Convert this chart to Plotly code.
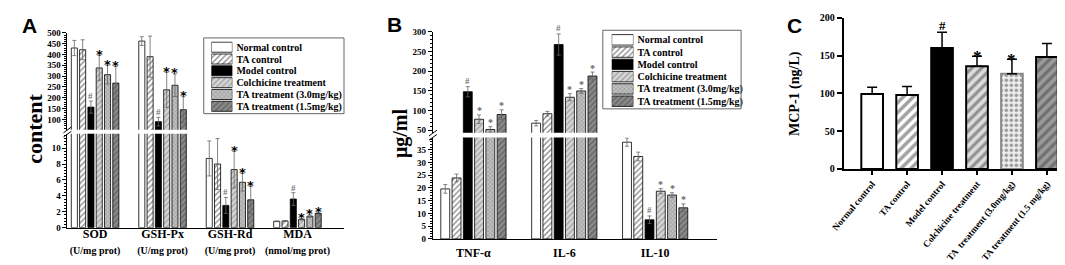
import plotly.graph_objects as go

W, H = 1065, 265
SERIF = "Liberation Serif, Times New Roman, serif"
SANS = "Liberation Sans, Arial, sans-serif"
STARFONT = "DejaVu Sans, sans-serif"

# ---------------- data ----------------
series_names = ["Normal control", "TA control", "Model control", "Colchicine treatment",
                "TA treatment (3.0mg/kg)", "TA treatment (1.5mg/kg)"]

# Panel A (broken axis)
a_cats = ["SOD", "GSH-Px", "GSH-Rd", "MDA"]
a_units = ["(U/mg prot)", "(U/mg prot)", "(U/mg prot)", "(nmol/mg prot)"]
a_normal = [430, 462, 8.7, 0.80]
a_ta = [422, 390, 8.0, 0.85]
a_model = [157, 90, 2.8, 3.6]
a_colch = [338, 237, 7.3, 1.05]
a_ta30 = [307, 258, 5.7, 1.45]
a_ta15 = [268, 145, 3.5, 1.8]
a_err_normal = [35, 20, 2.2, 0.05]
a_err_ta = [46, 95, 3.2, 0.05]
a_err_model = [28, 20, 1.0, 0.8]
a_err_colch = [57, 81, 2.3, 0.1]
a_err_ta30 = [43, 52, 1.1, 0.15]
a_err_ta15 = [77, 60, 1.7, 0.15]
a_sig_normal = ["", "", "", ""]
a_sig_ta = ["", "", "", ""]
a_sig_model = ["#", "#", "#", "#"]
a_sig_colch = ["*", "*", "*", "*"]
a_sig_ta30 = ["*", "*", "*", "*"]
a_sig_ta15 = ["*", "*", "*", "*"]

# Panel B (broken axis)
b_cats = ["TNF-α", "IL-6", "IL-10"]
b_normal = [19.6, 68, 37.9]
b_ta = [23.9, 92, 32.3]
b_model = [148, 268, 7.5]
b_colch = [78, 134, 18.7]
b_ta30 = [52, 150, 17.2]
b_ta15 = [90, 188, 12.2]
b_err_normal = [1.7, 7, 1.6]
b_err_ta = [1.5, 6, 1.7]
b_err_model = [13, 27, 1.5]
b_err_colch = [11, 9, 1.0]
b_err_ta30 = [7, 6, 0.9]
b_err_ta15 = [12, 10, 1.5]
b_sig_normal = ["", "", ""]
b_sig_ta = ["", "", ""]
b_sig_model = ["#", "#", "#"]
b_sig_colch = ["*", "*", "*"]
b_sig_ta30 = ["*", "*", "*"]
b_sig_ta15 = ["*", "*", "*"]

# Panel C
c_cats = ["Normal control", "TA control", "Model control", "Colchicine treatment",
          "TA  treatment (3.0mg/kg)", "TA treatment (1.5 mg/kg)"]
c_vals = [99, 98, 160, 136, 126, 148]
c_err = [9, 11, 21, 13, 19, 18]
c_sig = ["", "", "#", "*", "*", ""]

# ---------------- helpers ----------------
def fx(px):
    return px / W


def fy(py):
    return 1 - py / H


LINE = dict(color="black", width=0.8)
styles_ab = [
    dict(color="white", line=LINE),
    dict(color="white", line=LINE,
         pattern=dict(shape="/", fgcolor="black", bgcolor="white", size=4, solidity=0.3)),
    dict(color="black", line=LINE),
    dict(color="#d2d2d2", line=LINE,
         pattern=dict(shape="/", fgcolor="#666666", bgcolor="#d6d6d6", size=4, solidity=0.3)),
    dict(color="#b0b0b0", line=LINE,
         pattern=dict(shape="x", fgcolor="#555555", bgcolor="#c0c0c0", size=3, solidity=0.3)),
    dict(color="#808080", line=LINE,
         pattern=dict(shape="/", fgcolor="#333333", bgcolor="#8a8a8a", size=4, solidity=0.3)),
]

fig = go.Figure()
mark_annotations = []


def add_mark(x, y, text, xa, ya, size, color, yshift, family=SERIF):
    mark_annotations.append(dict(
        x=x, y=y, xref=xa, yref=ya, text=text, showarrow=False,
        xanchor="center", yanchor="middle", yshift=yshift,
        font=dict(family=family, size=size, color=color, weight="bold")))


def add_panel(vals_list, errs_list, sigs_list, slot, width, xa, ya_low, ya_up, low_max,
              star_style, hash_style):
    ncat = len(vals_list[0])
    for i, (vals, errs, sigs) in enumerate(zip(vals_list, errs_list, sigs_list)):
        xs = [g + (i - 2.5) * slot for g in range(ncat)]
        for ya in (ya_low, ya_up):
            fig.add_trace(go.Bar(
                x=xs, y=vals, width=width, xaxis=xa, yaxis=ya,
                marker=styles_ab[i], showlegend=False, hoverinfo="skip",
                error_y=dict(type="data", array=errs, visible=True, color="#666666",
                             thickness=0.8, width=2)))
        # significance marks above the error bars
        for g in range(ncat):
            if not sigs[g]:
                continue
            ya = ya_up if vals[g] > low_max else ya_low
            st = star_style if sigs[g] == "*" else hash_style
            add_mark(xs[g], vals[g] + errs[g], sigs[g], xa, ya, *st)


# Panel A
A_LOW_MAX = 11.8
add_panel([a_normal, a_ta, a_model, a_colch, a_ta30, a_ta15],
          [a_err_normal, a_err_ta, a_err_model, a_err_colch, a_err_ta30, a_err_ta15],
          [a_sig_normal, a_sig_ta, a_sig_model, a_sig_colch, a_sig_ta30, a_sig_ta15],
          0.123, 0.09, "x", "y", "y2", A_LOW_MAX,
          (13, "black", 1, STARFONT), (9, "#777777", 5))

# Panel B
B_LOW_MAX = 39.7
add_panel([b_normal, b_ta, b_model, b_colch, b_ta30, b_ta15],
          [b_err_normal, b_err_ta, b_err_model, b_err_colch, b_err_ta30, b_err_ta15],
          [b_sig_normal, b_sig_ta, b_sig_model, b_sig_colch, b_sig_ta30, b_sig_ta15],
          0.124, 0.098, "x2", "y3", "y4", B_LOW_MAX,
          (10, "#666666", 4), (9, "#777777", 6))

# Panel C
fig.add_trace(go.Bar(
    x=c_cats, y=c_vals, xaxis="x3", yaxis="y5", width=0.62, showlegend=False, hoverinfo="skip",
    marker=dict(
        color=["white", "white", "black", "#dddddd", "#eeeeee", "#9a9a9a"],
        line=dict(color=["black", "black", "black", "black", "#888888", "black"], width=2),
        pattern=dict(shape=["", "/", "", "/", ".", "/"],
                     fgcolor=["black", "black", "black", "#111111", "#666666", "#111111"],
                     bgcolor=["white", "white", "black", "#dddddd", "#f0f0f0", "#9a9a9a"],
                     size=[7, 7, 7, 7, 5, 7], solidity=[0.3, 0.5, 0.3, 0.45, 0.4, 0.45])),
    error_y=dict(type="data", array=c_err, arrayminus=[0] * len(c_err), visible=True,
                 color="black", thickness=1.5, width=5)))
for c, v, e, s in zip(c_cats, c_vals, c_err, c_sig):
    if s == "*":
        add_mark(c, v + e, s, "x3", "y5", 17, "black", 0)
    elif s == "#":
        add_mark(c, v + e, s, "x3", "y5", 13, "black", 7)

# Legends (pattern swatches built from the series names)
for xa, ya in (("x4", "y6"), ("x5", "y7")):
    for i, name in enumerate(series_names):
        fig.add_trace(go.Bar(
            orientation="h", y=[name], x=[1], xaxis=xa, yaxis=ya, width=0.85,
            marker=styles_ab[i], showlegend=False, hoverinfo="skip"))

# ---------------- layout ----------------
TICKFONT_AB = dict(family=SERIF, size=9, color="black", weight="bold")


def yax(domain, rng, dtick, minor_dtick, anchor):
    return dict(domain=domain, range=rng, dtick=dtick, tick0=0, anchor=anchor,
                showline=True, linecolor="black", linewidth=1, ticks="outside", ticklen=4,
                tickcolor="black", tickwidth=1, showgrid=False, zeroline=False,
                tickfont=TICKFONT_AB,
                minor=dict(ticks="outside", ticklen=2, dtick=minor_dtick, tickcolor="black",
                           tickwidth=0.8, showgrid=False))


def legend_yax(domain, anchor):
    return dict(domain=domain, type="category", categoryorder="array",
                categoryarray=series_names, tickmode="array", tickvals=series_names,
                ticktext=series_names, range=[5.5, -0.5], anchor=anchor, side="right",
                showline=False, ticks="", showgrid=False, zeroline=False, ticklabelstandoff=3,
                tickfont=dict(family=SERIF, size=10, color="black", weight="bold"))


a_ticktext = [f"<b>{c}</b><br><span style='font-size:10px'>{u}</span>" for c, u in zip(a_cats, a_units)]

fig.update_layout(
    width=W, height=H, margin=dict(l=0, r=0, t=0, b=0),
    paper_bgcolor="white", plot_bgcolor="rgba(0,0,0,0)",
    barmode="overlay", showlegend=False,
    font=dict(family=SERIF, color="black"),
    # Panel A
    xaxis=dict(domain=[fx(47), fx(327)], range=[-0.41, 3.69], anchor="y",
               tickvals=list(range(len(a_cats))), ticktext=a_ticktext,
               showline=True, linecolor="black", linewidth=1, ticks="", showgrid=False,
               zeroline=False, ticklabelstandoff=-5,
               tickfont=dict(family=SERIF, size=12, color="black", weight="bold")),
    yaxis=yax([fy(224), fy(126)], [0, A_LOW_MAX], 2, 0.4, "x"),
    yaxis2=yax([fy(121.7), fy(20.7)], [53, 500], 50, 10, "x"),
    # Panel B
    xaxis2=dict(domain=[fx(417), fx(705)], range=[-0.446, 2.685], anchor="y3",
                tickvals=list(range(len(b_cats))), ticktext=b_cats,
                showline=True, linecolor="black", linewidth=1, ticks="", showgrid=False,
                zeroline=False, ticklabelstandoff=3,
                tickfont=dict(family=SERIF, size=12, color="black", weight="bold")),
    yaxis3=yax([fy(235.7), fy(130)], [0, B_LOW_MAX], 5, 1, "x2"),
    yaxis4=yax([fy(125), fy(19.8)], [43.5, 300], 50, 10, "x2"),
    # Panel C
    xaxis3=dict(domain=[fx(833), fx(1063)], range=[-0.81, 5.69], anchor="y5",
                type="category", categoryorder="array", categoryarray=c_cats,
                showline=True, linecolor="black", linewidth=2, ticks="outside", ticklen=4,
                tickwidth=1.5, tickcolor="black", showgrid=False, zeroline=False, tickangle=-50,
                ticklabelstandoff=0,
                tickfont=dict(family=SERIF, size=9.3, color="black", weight="bold")),
    yaxis5=dict(domain=[fy(162.7), fy(5)], range=[0, 200], dtick=50, anchor="x3",
                showline=True, linecolor="black", linewidth=2, ticks="outside", ticklen=5,
                tickwidth=1.5, tickcolor="black", showgrid=False, zeroline=False,
                tickfont=dict(family=SERIF, size=10, color="black", weight="bold")),
    # Legend A swatches
    xaxis4=dict(domain=[fx(192.7), fx(214)], range=[0, 1], visible=False, anchor="y6"),
    yaxis6=legend_yax([fy(103.5), fy(29.5)], "x4"),
    # Legend B swatches
    xaxis5=dict(domain=[fx(598), fx(620)], range=[0, 1], visible=False, anchor="y7"),
    yaxis7=legend_yax([fy(98.4), fy(21.6)], "x5"),
)

# legend frames and axis-break marks (decoration)
shapes = [
    dict(type="rect", xref="paper", yref="paper", x0=fx(185), x1=fx(327), y0=fy(105), y1=fy(26),
         line=dict(color="#666666", width=1)),
    dict(type="rect", xref="paper", yref="paper", x0=fx(589), x1=fx(729), y0=fy(100), y1=fy(18),
         line=dict(color="#666666", width=1)),
]
for bx, by in ((47, 124.2), (417, 127.5)):
    for dy in (-2.2, 2.2):
        shapes.append(dict(type="line", xref="paper", yref="paper",
                           x0=fx(bx - 4), y0=fy(by + dy + 3), x1=fx(bx + 4), y1=fy(by + dy - 3),
                           line=dict(color="black", width=1)))
fig.update_layout(shapes=shapes)

annotations = [
    dict(text="<b>A</b>", x=fx(9), y=fy(13), font=dict(family=SANS, size=21, color="black")),
    dict(text="<b>B</b>", x=fx(378), y=fy(12), font=dict(family=SANS, size=21, color="black")),
    dict(text="<b>C</b>", x=fx(783), y=fy(13), font=dict(family=SANS, size=21, color="black")),
    dict(text="<b>content</b>", x=fx(14), y=fy(121), textangle=-90,
         font=dict(family=SERIF, size=22, color="black")),
    dict(text="<b>μg/ml</b>", x=fx(384), y=fy(125), textangle=-90,
         font=dict(family=SERIF, size=20, color="black")),
    dict(text="<b>MCP-1 (ng/L)</b>", x=fx(783), y=fy(84), textangle=-90,
         font=dict(family=SERIF, size=14, color="black")),
]
for a in annotations:
    a.update(xref="paper", yref="paper", showarrow=False, xanchor="center", yanchor="middle")
fig.update_layout(annotations=annotations + mark_annotations)

fig.write_html("out.html", config={"displayModeBar": False})
